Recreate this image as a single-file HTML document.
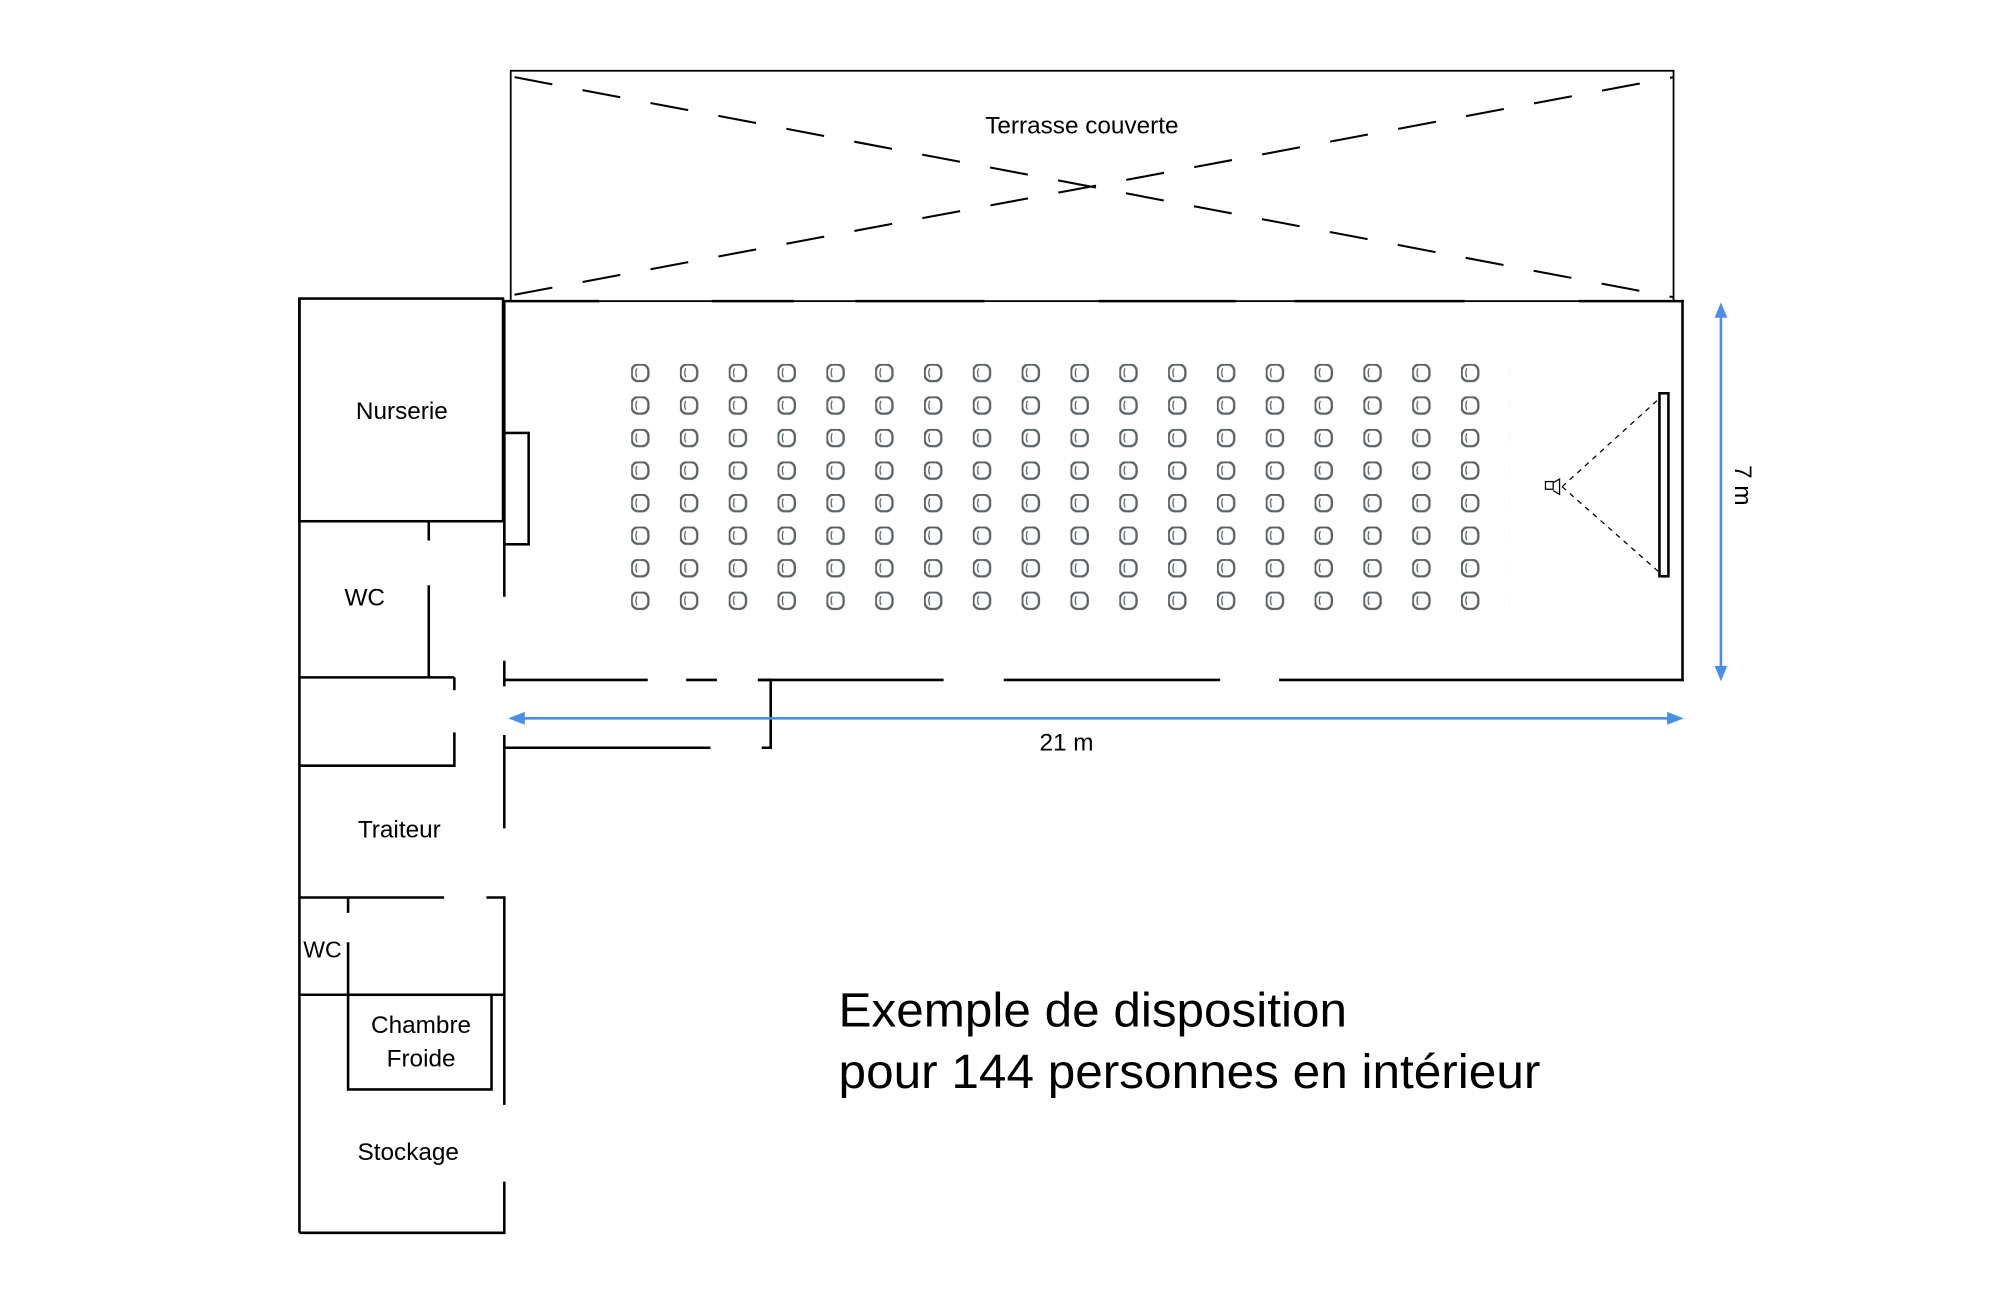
<!DOCTYPE html>
<html><head><meta charset="utf-8"><style>
html,body{margin:0;padding:0;background:#fff;}
svg{display:block;}
text{font-family:"Liberation Sans",sans-serif;fill:#000;}
</style></head><body>
<svg width="2001" height="1301" viewBox="2.2 0.7 1562.5 1016.6" preserveAspectRatio="none" xmlns="http://www.w3.org/2000/svg">
<defs>
<pattern id="ch" x="495" y="285" width="38.12" height="25.43" patternUnits="userSpaceOnUse">
<rect x="0.5" y="0.5" width="13" height="13" rx="5" fill="none" stroke="#5b6266" stroke-width="1.8"/>
<path d="M4.5 3.5 Q3 7 4.5 10.5" fill="none" stroke="#5b6266" stroke-width="1"/>
</pattern>
</defs>
<rect x="0" y="0" width="1570" height="1020" fill="#fff"/>
<g stroke="#000" fill="none" stroke-width="1.6">
<rect x="401" y="56" width="908" height="180" stroke-width="1.4"/>
<line x1="404" y1="61" x2="1309" y2="233" stroke-dasharray="30,24"/>
<line x1="404" y1="231" x2="1309" y2="61" stroke-dasharray="30,24"/>
</g>
<g stroke="#000" fill="none" stroke-width="2">
<path d="M396 236H470 M558 236H622 M670 236H771 M860 236H967 M1013 236H1146 M1235 236H1317"/>
<path d="M1316 235V533"/>
<path d="M396 532H508 M538 532H562 M594 532H739 M786 532H955 M1001 532H1317"/>
<path d="M396 236V467 M396 517V537"/>
<rect x="236" y="234" width="159" height="174"/>
<rect x="396" y="339" width="19" height="87"/>
<path d="M337 408V423 M337 458V530 M236 530H357 M357 530V540"/>
<path d="M236 234V964"/>
<path d="M236 599H357V573"/>
<path d="M396 575V648 M396 585H557"/>
<path d="M594 532H604V585H597"/>
<path d="M236 702H349 M382 702H396V864"/>
<path d="M274 702V714 M274 737V778 M236 778H396"/>
<rect x="274" y="778" width="112" height="74"/>
<path d="M396 924V964H236"/>
<rect x="1298" y="308" width="7" height="143"/>
</g>
<g stroke="#000" fill="none" stroke-width="1">
<rect x="1209" y="377" width="6" height="6"/>
<path d="M1215 378L1220 375V387L1215 384"/>
<path d="M1222 381L1298 312 M1222 381L1298 448" stroke-dasharray="4,4"/>
</g>
<rect x="495" y="285" width="686" height="203" fill="url(#ch)"/>
<g stroke="#4a8fe7" stroke-width="2" fill="#4a8fe7">
<line x1="408" y1="562" x2="1306" y2="562"/>
<path d="M399 562L412 557V567Z" stroke="none"/>
<path d="M1317 562L1304 557V567Z" stroke="none"/>
<line x1="1346" y1="246" x2="1346" y2="523"/>
<path d="M1346 237L1341 249H1351Z" stroke="none"/>
<path d="M1346 533L1341 521H1351Z" stroke="none"/>
</g>
<text x="847" y="105" font-size="19" text-anchor="middle">Terrasse couverte</text>
<text x="316" y="328" font-size="19" text-anchor="middle">Nurserie</text>
<text x="287" y="474" font-size="19" text-anchor="middle">WC</text>
<text x="314" y="655" font-size="19" text-anchor="middle">Traiteur</text>
<text x="254" y="749" font-size="18" text-anchor="middle">WC</text>
<text x="331" y="808" font-size="19" text-anchor="middle">Chambre</text>
<text x="331" y="834" font-size="19" text-anchor="middle">Froide</text>
<text x="321" y="907" font-size="19" text-anchor="middle">Stockage</text>
<text x="835" y="587" font-size="19" text-anchor="middle">21 m</text>
<text x="0" y="0" font-size="19" text-anchor="middle" transform="translate(1357,380) rotate(90)">7 m</text>
<text x="657" y="803" font-size="38" textLength="397" lengthAdjust="spacingAndGlyphs">Exemple de disposition</text>
<text x="657" y="851" font-size="38" textLength="548" lengthAdjust="spacingAndGlyphs">pour 144 personnes en intérieur</text>
</svg>
</body></html>
